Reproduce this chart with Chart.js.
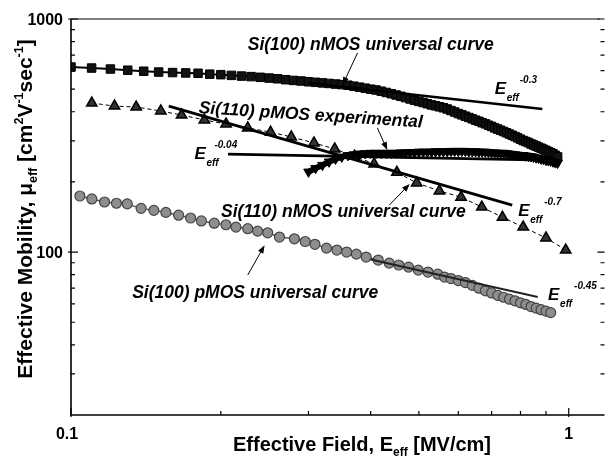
<!DOCTYPE html>
<html><head><meta charset="utf-8">
<script src="https://cdn.jsdelivr.net/npm/chart.js@4/dist/chart.umd.min.js"></script>
<style>html,body{margin:0;padding:0;background:#fff}</style>
</head><body>
<canvas id="c" width="612" height="464"></canvas>
<script>
// ---------- data ----------
const nmos100E = [0.10,0.11,0.12,0.13,0.14,0.15,0.16,0.17,0.18,0.19,0.20,0.21,0.22,0.23,0.24,0.25,0.26,0.27,0.28,0.29,
  0.30,0.31,0.32,0.33,0.34,0.35,0.36,0.37,0.38,0.39,0.40,0.41,0.42,0.43,0.44,0.45,0.46,0.47,0.48,0.49,
  0.50,0.51,0.52,0.53,0.54,0.55,0.56,0.57,0.58,0.59,0.60,0.61,0.62,0.63,0.64,0.65,0.66,0.67,0.68,0.69,
  0.70,0.71,0.72,0.73,0.74,0.75,0.76,0.77,0.78,0.79,0.80,0.81,0.82,0.83,0.84,0.85,0.86,0.87,0.88,0.89,
  0.90,0.91,0.92,0.93,0.94,0.95];
const nmos100Mu = [622,616,610,603,597,592,589,587,585,580,577,573,569,566,562,558,554,549,545,542,
  538,535,532,529,526,523,520,515,510,505,500,496,490,484,478,472,466,460,454,448,
  443,438,433,428,424,420,416,411,405,399,393,388,383,378,373,368,364,359,355,350,
  346,341,337,333,329,325,321,317,313,309,305,301,298,295,291,288,285,282,279,276,
  273,270,267,264,260,256];

const pmos110E = [0.30,0.31,0.32,0.33,0.34,0.35,0.36,0.37,0.38,0.39,0.40,0.41,0.42,0.43,0.44,0.45,0.46,0.47,0.48,0.49,
  0.50,0.51,0.52,0.53,0.54,0.55,0.56,0.57,0.58,0.59,0.60,0.61,0.62,0.63,0.64,0.65,0.66,0.67,0.68,0.69,
  0.70,0.71,0.72,0.73,0.74,0.75,0.76,0.77,0.78,0.79,0.80,0.81,0.82,0.83,0.84,0.85,0.86,0.87,0.88,0.89,
  0.90,0.91,0.92,0.93,0.94,0.95];
const pmos110Mu = [221,229,236,244,251,256,260,262,264,265,266,266,266,266,266,266,267,267,268,268,
  269,269,269,269,270,270,270,270,271,271,271,271,271,270,270,270,269,269,269,268,
  267,267,266,266,266,265,264,263,262,261,260,260,259,258,257,256,254,253,251,250,
  248,247,246,244,242,241];

const nmos110E = [0.1101,0.1223,0.1352,0.1515,0.1668,0.1853,0.2049,0.2265,0.2517,0.2770,0.3077,0.3387,
  0.3711,0.4064,0.4516,0.4949,0.5497,0.6077,0.6690,0.7360,0.8101,0.9002,0.9863];
const nmos110Mu = [436,423,419,403,387,369,354,341,327,312,294,277,258,239,220,198,183,172,156,141,128,115,102];

const pmos100E = [0.1042,0.1101,0.1168,0.1234,0.1297,0.1383,0.1467,0.1551,0.1645,0.1739,0.1828,0.1940,0.2048,
  0.2145,0.2265,0.2371,0.2484,0.2623,0.2811,0.2955,0.3091,0.3261,0.3422,0.3579,0.3744,0.3917,0.4142,0.4358,
  0.4555,0.4766,0.4986,0.5215,0.5456,0.5631,0.58,0.60,0.62,0.64,0.66,0.68,0.70,0.72,0.74,0.76,0.78,0.80,
  0.82,0.84,0.86,0.88,0.90,0.92];
const pmos100Mu = [174,169,164,162,161,154,151,148,144,140,136,133,131,128,126,123,121,116,114,111,108,104,102,
  100,98,95.2,92.4,89.7,88,86.2,83.7,82.1,80.4,78.1,77.0,75.5,74.0,72.0,70.0,68.2,66.8,65.2,64.0,62.8,61.8,
  60.6,59.6,58.4,57.5,56.6,55.8,55.0];

// power-law guide lines (end points)
const fit03E = [0.30, 0.885],   fit03Mu = [532, 411];
const fit004E = [0.2068, 0.90], fit004Mu = [263, 248];
const fit07E = [0.1572, 0.770], fit07Mu = [423, 159];
const fit045E = [0.40, 0.8666], fit045Mu = [93, 64.1];

// axes
const xMajorTicks = [0.1, 1];
const xTickLabels = ['0.1', '1'];
const xMinorTicks = [0.2,0.3,0.4,0.5,0.6,0.7,0.8,0.9];
const yMajorTicks = [100, 1000];
const yTickLabels = ['100', '1000'];
const yMinorTicks = [30,40,50,60,70,80,90,200,300,400,500,600,700,800,900];

// annotations (data coordinates)
const curveLabels = ['Si(100) nMOS universal curve','Si(110) pMOS experimental','Si(110) nMOS universal curve','Si(100) pMOS universal curve'];
const curveLabelE = [0.2265, 0.1803, 0.2002, 0.1327];
const curveLabelMu = [736, 395, 141, 63.5];
const curveLabelRot = [0, 3.7, 0, 0];
const arrowTailE = [0.3764, 0.4126, 0.4359, 0.2265];
const arrowTailMu = [715, 341, 159, 79.7];
const arrowHeadE = [0.3513, 0.4319, 0.4793, 0.2449];
const arrowHeadMu = [521, 274, 196, 107];
const expLabels = ['-0.3','-0.04','-0.7','-0.45'];
const expLabelE = [0.7102, 0.1770, 0.7918, 0.9090];
const expLabelMu = [477, 251, 143, 62.2];
const expSupDx = [25, 20, 26, 26];

const FAM = '"Liberation Sans", Arial, Helvetica, sans-serif';
const pts = (xs, ys) => xs.map((x, i) => ({x: x, y: ys[i]}));

const fitStyle = (w, c) => ({showLine: true, pointRadius: 0, borderColor: c, borderWidth: w, order: 0, fill: false});

const datasets = [
  Object.assign({label: 'E^-0.3', data: pts(fit03E, fit03Mu)}, fitStyle(2.5, '#000')),
  Object.assign({label: 'E^-0.04', data: pts(fit004E, fit004Mu)}, fitStyle(2.8, '#000')),
  Object.assign({label: 'E^-0.7', data: pts(fit07E, fit07Mu)}, fitStyle(2.8, '#000')),
  Object.assign({label: 'E^-0.45', data: pts(fit045E, fit045Mu)}, fitStyle(2, '#222')),
  {label: 'Si(100) nMOS', data: pts(nmos100E, nmos100Mu), showLine: true, borderColor: '#000', borderWidth: 2,
   pointStyle: 'rect', pointRadius: 6, backgroundColor: '#111', pointBorderColor: '#000', pointBorderWidth: 1, order: 2},
  {label: 'Si(110) pMOS exp', data: pts(pmos110E, pmos110Mu), showLine: true, borderColor: '#000', borderWidth: 6,
   pointStyle: 'triangle', rotation: 180, pointRadius: 5.5, backgroundColor: '#000', pointBorderColor: '#000', pointBorderWidth: 1, order: 1},
  {label: 'Si(110) nMOS', data: pts(nmos110E, nmos110Mu), showLine: true, borderColor: '#000', borderWidth: 1, borderDash: [4, 3],
   pointStyle: 'triangle', pointRadius: 6, backgroundColor: '#333', pointBorderColor: '#000', pointBorderWidth: 1.5, order: 3},
  {label: 'Si(100) pMOS', data: pts(pmos100E, pmos100Mu), showLine: true, borderColor: '#555', borderWidth: 1.5,
   pointStyle: 'circle', pointRadius: 5, backgroundColor: '#8e8e8e', pointBorderColor: '#444', pointBorderWidth: 1.2, order: 4}
];

function richText(ctx, x, y, parts, align) {
  let w = 0;
  parts.forEach(p => { ctx.font = p[3] + ' ' + p[1] + 'px ' + FAM; w += ctx.measureText(p[0]).width; });
  let cx = align === 'center' ? x - w / 2 : x;
  parts.forEach(p => {
    ctx.font = p[3] + ' ' + p[1] + 'px ' + FAM;
    ctx.fillText(p[0], cx, y + p[2]);
    cx += ctx.measureText(p[0]).width;
  });
}

const decor = {
  id: 'decor',
  afterDraw(chart) {
    const ctx = chart.ctx, xs = chart.scales.x, ys = chart.scales.y, a = chart.chartArea;
    ctx.save();
    ctx.strokeStyle = '#000'; ctx.fillStyle = '#000';
    // frame
    ctx.lineWidth = 1.6;
    ctx.beginPath(); ctx.moveTo(a.left, a.top); ctx.lineTo(a.left, a.bottom); ctx.lineTo(a.right, a.bottom); ctx.stroke();
    ctx.lineWidth = 1.1;
    ctx.beginPath(); ctx.moveTo(a.left, a.top); ctx.lineTo(a.right - 5, a.top); ctx.stroke();
    // ticks
    ctx.lineWidth = 1.2;
    ctx.beginPath();
    yMinorTicks.forEach(v => { const y = ys.getPixelForValue(v);
      ctx.moveTo(a.left, y); ctx.lineTo(a.left + 4, y);
      ctx.moveTo(a.right, y); ctx.lineTo(a.right - 4, y); });
    yMajorTicks.forEach(v => { const y = ys.getPixelForValue(v);
      ctx.moveTo(a.left - 3, y); ctx.lineTo(a.left + 7, y);
      ctx.moveTo(a.right, y); ctx.lineTo(a.right - 7, y); });
    xMinorTicks.forEach(v => { const x = xs.getPixelForValue(v);
      ctx.moveTo(x, a.bottom); ctx.lineTo(x, a.bottom - 4); });
    xMajorTicks.forEach(v => { const x = xs.getPixelForValue(v);
      ctx.moveTo(x, a.bottom + 2); ctx.lineTo(x, a.bottom - 7); });
    ctx.stroke();
    // tick labels
    ctx.font = 'bold 16px ' + FAM;
    ctx.textBaseline = 'alphabetic';
    ctx.textAlign = 'right';
    yMajorTicks.forEach((v, i) => ctx.fillText(yTickLabels[i], a.left - 8, ys.getPixelForValue(v) + 6));
    ctx.textAlign = 'center';
    xMajorTicks.forEach((v, i) => ctx.fillText(xTickLabels[i], xs.getPixelForValue(v) - (i === 0 ? 4 : 0), a.bottom + 24));
    ctx.textAlign = 'left';
    // axis titles
    richText(ctx, 362, 451, [['Effective Field, E', 20, 0, 'bold'], ['eff', 12, 5, 'bold'], [' [MV/cm]', 20, 0, 'bold']], 'center');
    ctx.save();
    ctx.translate(32, 209); ctx.rotate(-Math.PI / 2);
    richText(ctx, 0, 0, [['Effective Mobility, \u03bc', 21, 0, 'bold'], ['eff', 12.5, 5, 'bold'], [' [cm', 21, 0, 'bold'],
      ['2', 12.5, -9, 'bold'], ['V', 21, 0, 'bold'], ['-1', 12.5, -9, 'bold'], ['sec', 21, 0, 'bold'], ['-1', 12.5, -9, 'bold'], [']', 21, 0, 'bold']], 'center');
    ctx.restore();
    // curve labels
    ctx.font = 'italic bold 17.5px ' + FAM;
    curveLabels.forEach((t, i) => {
      ctx.save();
      ctx.translate(xs.getPixelForValue(curveLabelE[i]), ys.getPixelForValue(curveLabelMu[i]));
      ctx.rotate(curveLabelRot[i] * Math.PI / 180);
      ctx.fillText(t, 0, 0);
      ctx.restore();
    });
    // arrows
    ctx.lineWidth = 1;
    arrowTailE.forEach((e, i) => {
      const x0 = xs.getPixelForValue(e), y0 = ys.getPixelForValue(arrowTailMu[i]);
      const x1 = xs.getPixelForValue(arrowHeadE[i]), y1 = ys.getPixelForValue(arrowHeadMu[i]);
      const ang = Math.atan2(y1 - y0, x1 - x0), L = 8, W = 3;
      ctx.beginPath(); ctx.moveTo(x0, y0); ctx.lineTo(x1 - Math.cos(ang) * 4, y1 - Math.sin(ang) * 4); ctx.stroke();
      ctx.beginPath();
      ctx.moveTo(x1, y1);
      ctx.lineTo(x1 - L * Math.cos(ang) + W * Math.sin(ang), y1 - L * Math.sin(ang) - W * Math.cos(ang));
      ctx.lineTo(x1 - L * Math.cos(ang) - W * Math.sin(ang), y1 - L * Math.sin(ang) + W * Math.cos(ang));
      ctx.closePath(); ctx.fill();
    });
    // E_eff^n labels
    expLabels.forEach((s, i) => {
      const x = xs.getPixelForValue(expLabelE[i]), y = ys.getPixelForValue(expLabelMu[i]);
      ctx.font = 'italic bold 17px ' + FAM; ctx.fillText('E', x, y);
      ctx.font = 'italic bold 10px ' + FAM; ctx.fillText('eff', x + 12, y + 7);
      ctx.fillText(s, x + expSupDx[i], y - 11);
    });
    ctx.restore();
  }
};

new Chart(document.getElementById('c'), {
  type: 'scatter',
  data: {datasets: datasets},
  options: {
    responsive: false, animation: false, devicePixelRatio: 1,
    layout: {padding: {left: 71, right: 1, top: 19, bottom: 49}},
    plugins: {legend: {display: false}, tooltip: {enabled: false}},
    scales: {
      x: {type: 'logarithmic', min: 0.1, max: 1.18, display: false},
      y: {type: 'logarithmic', min: 20, max: 1000, display: false}
    }
  },
  plugins: [decor]
});
</script>
</body></html>
